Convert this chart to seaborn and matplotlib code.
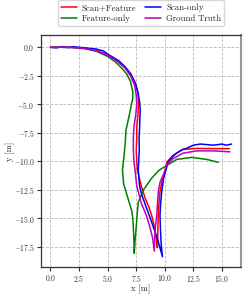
"""Trajectory comparison: Scan+Feature, Feature-only, Scan-only vs Ground Truth."""

import numpy as np
import pandas as pd
import matplotlib

matplotlib.use("Agg")
import matplotlib.pyplot as plt
import seaborn as sns

# Scan+Feature (red)
sf_x = [0.0, 1.0, 2.0, 3.0, 4.0, 5.0, 5.8, 6.5, 7.05, 7.45, 7.65, 7.7, 7.65,
        7.55, 7.55, 7.5, 7.55, 7.6, 7.95, 8.3, 8.6, 8.85, 9.1, 9.25, 9.35,
        9.38, 9.4, 9.43, 9.5, 9.58, 9.75, 10.0, 10.2, 10.74, 11.6, 12.8,
        14.25, 15.65]
sf_y = [0.0, 0.02, 0.0, -0.08, -0.28, -0.65, -1.1, -1.7, -2.4, -3.2, -4.1,
        -5.0, -6.0, -7.0, -8.0, -9.0, -10.0, -10.8, -12.2, -13.3, -14.0,
        -14.75, -15.8, -16.8, -17.6, -16.8, -15.8, -14.75, -13.6, -12.7,
        -11.8, -11.0, -10.06, -9.47, -8.97, -8.88, -8.9, -8.9]

# Feature-only (green)
fo_x = [0.0, 1.0, 2.0, 3.0, 4.0, 5.0, 5.7, 6.3, 6.7, 7.0, 7.2, 7.2, 7.1,
        6.95, 6.8, 6.6, 6.55, 6.43, 6.3, 6.4, 6.7, 7.0, 7.1, 7.2, 7.25,
        7.3, 7.33, 7.4, 7.5, 7.6, 7.68, 8.12, 8.85, 9.5, 10.3, 11.04, 12.35,
        13.67, 14.68]
fo_y = [0.0, 0.0, -0.03, -0.12, -0.35, -0.8, -1.3, -1.9, -2.4, -3.0, -3.9,
        -4.5, -4.9, -5.7, -6.4, -7.3, -8.3, -9.6, -10.8, -12.0, -13.0,
        -14.0, -14.3, -15.0, -15.8, -17.0, -18.1, -17.0, -15.8, -14.5,
        -13.6, -12.55, -11.5, -10.8, -10.3, -9.85, -9.67, -9.85, -10.1]

# Scan-only (blue)
so_x = [0.0, 0.5, 1.0, 1.5, 2.0, 2.5, 3.0, 3.5, 4.0, 4.3, 4.6, 5.0, 5.5,
        6.0, 6.5, 7.0, 7.4, 7.65, 7.8, 7.85, 7.83, 7.8, 7.75, 7.77, 7.72,
        7.68, 7.8, 8.0, 8.42, 8.8, 9.0, 9.35, 9.8, 9.7, 9.62, 9.58, 9.65,
        9.73, 9.9, 10.3, 10.7, 11.04, 11.5, 11.9, 12.5, 13.1, 13.7, 14.25,
        15.0, 15.4, 15.85]
so_y = [0.0, -0.05, 0.05, -0.02, 0.05, 0.0, -0.05, -0.1, -0.15, -0.25,
        -0.3, -0.6, -0.9, -1.2, -1.7, -2.3, -3.1, -3.9, -4.8, -5.5, -6.1,
        -7.0, -8.0, -9.0, -10.0, -10.8, -12.2, -13.0, -14.16, -15.2, -15.8,
        -16.8, -18.4, -17.5, -16.0, -14.75, -13.6, -12.7, -11.5, -10.06,
        -9.6, -9.3, -9.0, -8.88, -8.6, -8.5, -8.55, -8.6, -8.5, -8.6, -8.5]

# Ground Truth (magenta)
gt_x = [0.0, 1.0, 2.0, 3.0, 4.0, 5.0, 5.8, 6.5, 7.0, 7.35, 7.5, 7.55, 7.45,
        7.3, 7.25, 7.25, 7.3, 7.4, 7.55, 7.95, 8.4, 8.7, 8.95, 9.08, 9.12,
        9.18, 9.3, 9.43, 9.6, 9.87, 10.17, 10.74, 11.6, 12.8, 14.25, 15.7]
gt_y = [0.0, 0.0, -0.02, -0.1, -0.3, -0.7, -1.2, -1.8, -2.5, -3.3, -4.2,
        -5.0, -6.0, -7.0, -8.0, -9.0, -10.0, -10.8, -12.2, -13.7, -14.8,
        -15.8, -16.8, -17.9, -16.8, -15.8, -14.75, -12.7, -11.8, -11.2,
        -10.35, -9.77, -9.3, -9.1, -9.1, -9.18]

SERIES = [
    ("Scan+Feature", sf_x, sf_y, "red"),
    ("Feature-only", fo_x, fo_y, "green"),
    ("Scan-only", so_x, so_y, "blue"),
    ("Ground Truth", gt_x, gt_y, "m"),
]
X_TICKS = [0.0, 2.5, 5.0, 7.5, 10.0, 12.5, 15.0]
Y_TICKS = [0.0, -2.5, -5.0, -7.5, -10.0, -12.5, -15.0, -17.5]

sns.set_style("ticks")
plt.rcParams["font.family"] = ["cmr10"]
plt.rcParams["mathtext.fontset"] = "cm"
plt.rcParams["axes.formatter.use_mathtext"] = True

fig = plt.figure(figsize=(2.49, 2.96), dpi=100)
ax = fig.add_axes([41 / 249, 1 - 267 / 296, 200 / 249, 232 / 296])

for name, xs, ys, color in SERIES:
    df = pd.DataFrame({"x": xs, "y": ys})
    sns.lineplot(data=df, x="x", y="y", sort=False, estimator=None,
                 color=color, lw=1.1, label=name, ax=ax)

ax.set_xlim(-0.83, 16.67)
ax.set_ylim(-19.3, 1.08)
ax.set_xticks(X_TICKS)
ax.set_yticks(Y_TICKS)
ax.tick_params(labelsize=5.5, length=3, width=0.8, pad=1.5, colors="#333333")
ax.grid(True, ls="--", color="#bbbbbb", lw=0.6)
for sp in ax.spines.values():
    sp.set_color("#333333")
    sp.set_linewidth(0.9)
ax.spines["right"].set_color("#999999")
ax.spines["right"].set_linewidth(1.5)
ax.set_xlabel("x [m]", fontsize=6.2)
ax.set_ylabel("y [m]", fontsize=6.2)
ax.xaxis.set_label_coords(0.5, -0.075)
ax.yaxis.set_label_coords(-0.13, 0.5)

ax.legend(loc="lower center", bbox_to_anchor=(0.5, 1.02), ncol=2,
          fontsize=6.3, frameon=True, handlelength=1.8, handletextpad=0.6,
          columnspacing=1.0, borderpad=0.35, labelspacing=0.3, fancybox=True)

fig.savefig("out.png", dpi=100)
